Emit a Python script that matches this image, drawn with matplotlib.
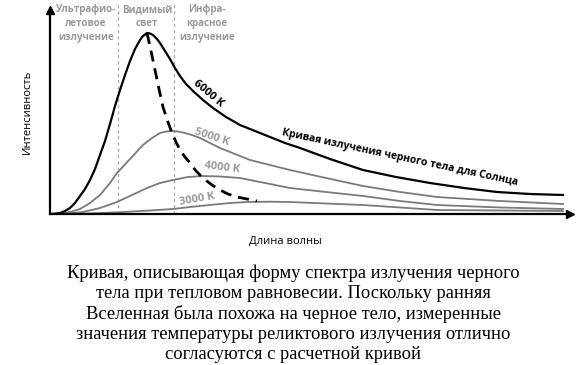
import matplotlib

matplotlib.use("Agg")
import matplotlib.pyplot as plt

# wavelength (arbitrary units) and relative intensity
wl_6000 = [0, 25, 50, 75, 100, 125, 150, 175, 200, 225, 250, 275, 300, 325,
           350, 375, 400, 425, 450, 465, 485, 500, 515, 535, 550, 575, 600,
           625, 650, 680, 715, 765, 815, 880, 950, 1025, 1100, 1175, 1250,
           1400, 1565, 1730, 1900, 2070, 2235, 2400, 2565]
int_6000 = [0, 0.3, 1, 3, 6, 11, 18, 25, 34, 45, 59, 73, 90, 108,
            124, 139, 153, 165, 174, 178, 181, 180.5, 179, 175, 171, 163, 155,
            146, 138, 130, 123, 114, 106, 97, 89, 83, 77, 71, 66,
            55, 44, 37, 31, 26, 22, 20, 19]

wl_5000 = [0, 50, 100, 150, 200, 250, 300, 335, 400, 465, 510, 550, 580, 610,
           640, 675, 710, 750, 800, 850, 925, 1000, 1100, 1200, 1380, 1565,
           1750, 1935, 2250, 2565]
int_5000 = [0, 0.5, 2, 5, 11, 19, 31, 41, 55, 69, 76, 81, 82.5, 83,
            82.5, 81, 79, 76, 71, 66, 60, 54, 49, 44, 36, 28,
            22, 17, 13, 10]

wl_4000 = [0, 100, 165, 250, 335, 410, 485, 550, 615, 690, 765, 850, 950,
           1075, 1200, 1380, 1565, 1750, 1935, 2250, 2565]
int_4000 = [0, 0.7, 2, 6, 12, 19, 26, 31, 34, 37, 38, 37.5, 36,
            31, 26, 22, 18, 13, 9, 6.5, 5]

wl_3000 = [0, 200, 365, 500, 615, 700, 800, 900, 985, 1100, 1200, 1380, 1565,
           1750, 1935, 2250, 2565]
int_3000 = [0, 0.5, 2, 3.5, 5, 7, 9, 11, 12, 12.3, 12, 10.5, 9,
            6.5, 4, 3.5, 3]

# peak positions of the curves (dashed line)
wl_peak = [485, 505, 525, 545, 565, 588, 610, 630, 650, 675, 700, 730, 765,
           810, 850, 890, 935, 985, 1035]
int_peak = [181, 163, 144, 125, 107, 93, 81, 72, 64, 57, 51, 43, 36,
            29, 24, 20, 17, 15, 13]

band_edges = [340, 620]
band_labels = ["Ультрафио-\nлетовое\nизлучение", "Видимый\nсвет",
               "Инфра-\nкрасное\nизлучение"]
band_centers = [180, 485, 785]

caption = ("Кривая, описывающая форму спектра излучения черного\n"
           "тела при тепловом равновесии. Поскольку ранняя\n"
           "Вселенная была похожа на черное тело, измеренные\n"
           "значения температуры реликтового излучения отлично\n"
           "согласуются с расчетной кривой")

SANS = ["Open Sans", "DejaVu Sans"]
GRAY_LINE = "#7a7a7a"
GRAY_TEXT = "#9a9a9a"

fig = plt.figure(figsize=(5.86, 3.65), dpi=100)
ax = fig.add_axes([50 / 586, 151 / 365, 520 / 586, 204 / 365])
ax.set_xlim(0, 2600)
ax.set_ylim(0, 204)

for edge in band_edges:
    ax.plot([edge, edge], [0, 212], color="#aaaaaa", lw=0.9,
            linestyle=(0, (2.5, 2.5)), clip_on=False, zorder=1)

ax.plot(wl_3000, int_3000, color=GRAY_LINE, lw=1.3, zorder=2)
ax.plot(wl_4000, int_4000, color=GRAY_LINE, lw=1.3, zorder=2)
ax.plot(wl_5000, int_5000, color=GRAY_LINE, lw=1.3, zorder=2)
ax.plot(wl_6000, int_6000, color="black", lw=1.6, zorder=3)
ax.plot(wl_peak, int_peak, color="black", lw=2.0, linestyle=(0, (4, 2.5)),
        zorder=4)

for label, xc in zip(band_labels, band_centers):
    ax.text(xc, 210, label, ha="center", va="top", fontsize=7,
            fontweight="bold", color=GRAY_TEXT, family=SANS, linespacing=1.35)

ax.text(790, 120, "6000 K", rotation=-40, ha="center", va="center",
        fontsize=8, fontweight="bold", color="black", family=SANS)
ax.text(810, 77, "5000 K", rotation=-18, ha="center", va="center",
        fontsize=8, fontweight="bold", color=GRAY_TEXT, family=SANS)
ax.text(860, 46, "4000 K", rotation=-7, ha="center", va="center",
        fontsize=8, fontweight="bold", color=GRAY_TEXT, family=SANS)
ax.text(735, 15, "3000 K", rotation=10, ha="center", va="center",
        fontsize=8, fontweight="bold", color=GRAY_TEXT, family=SANS)
ax.text(1750, 56, "Кривая излучения черного тела для Солнца", rotation=-12,
        ha="center", va="center", fontsize=7.5, fontweight="bold",
        color="black", family=SANS)

# axes drawn as arrows
for side in ["top", "right"]:
    ax.spines[side].set_visible(False)
for side in ["left", "bottom"]:
    ax.spines[side].set_linewidth(1.6)
ax.set_xticks([])
ax.set_yticks([])
ax.plot(1.0, 0, ">k", ms=6, transform=ax.transAxes, clip_on=False)
ax.plot(0, 1.0, "^k", ms=6, transform=ax.transAxes, clip_on=False)

fig.text(27 / 586, 1 - 112 / 365, "Интенсивность", rotation=90,
         ha="center", va="center", fontsize=8, family=SANS)
fig.text(285 / 586, 1 - 241 / 365, "Длина волны", ha="center", va="center",
         fontsize=8, family=SANS)

fig.text(0.5, 1 - 314 / 365, caption, ha="center", va="center",
         multialignment="center", fontsize=13.3,
         family=["Liberation Serif", "DejaVu Serif"], linespacing=1.22)

fig.savefig("out.png", dpi=100)
